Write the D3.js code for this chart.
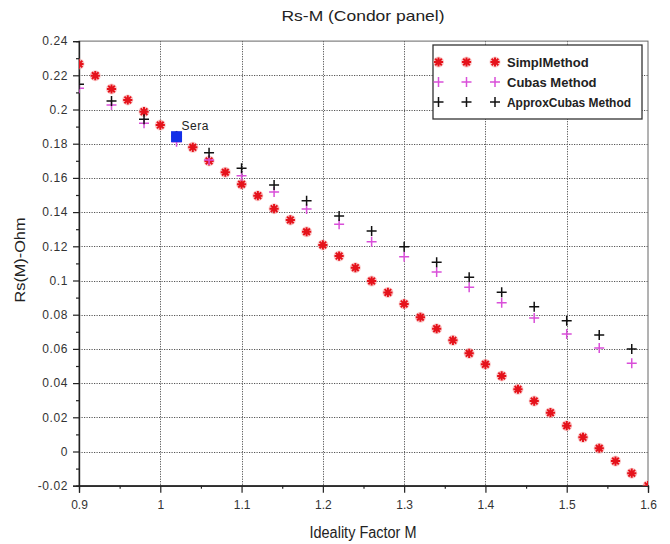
<!DOCTYPE html>
<html>
<head>
<meta charset="utf-8">
<script src="https://cdn.jsdelivr.net/npm/d3@7"></script>
<style>
  body { margin: 0; background: #fff; }
  svg { display: block; font-family: "Liberation Sans", Arial, sans-serif; }
</style>
</head>
<body>
<div class="chart"></div>
<script>
// M 取值
const simplM = [0.90, 0.92, 0.94, 0.96, 0.98, 1.00, 1.02, 1.04, 1.06, 1.08, 1.10, 1.12,
  1.14, 1.16, 1.18, 1.20, 1.22, 1.24, 1.26, 1.28, 1.30, 1.32, 1.34, 1.36,
  1.38, 1.40, 1.42, 1.44, 1.46, 1.48, 1.50, 1.52, 1.54, 1.56, 1.58, 1.60]
const simplRs = [0.2266, 0.2198, 0.2120, 0.2056, 0.1987, 0.1909, 0.1844, 0.1779, 0.1699, 0.1633, 0.1563, 0.1496,
  0.1420, 0.1354, 0.1285, 0.1208, 0.1143, 0.1075, 0.0997, 0.0930, 0.0863, 0.0785, 0.0718, 0.0650,
  0.0574, 0.0510, 0.0442, 0.0364, 0.0295, 0.0227, 0.0151, 0.0083, 0.0019, -0.0056, -0.0127, -0.0200]

const cubasM = [0.90, 0.94, 0.98, 1.02, 1.06, 1.10, 1.14, 1.18, 1.22, 1.26, 1.30, 1.34, 1.38, 1.42, 1.46, 1.50, 1.54, 1.58]
const cubasRs = [0.2124, 0.2026, 0.1919, 0.1812, 0.1705, 0.1613, 0.1518, 0.1418, 0.1329, 0.1227, 0.1139, 0.1050, 0.0960, 0.0870, 0.0781, 0.0687, 0.0605, 0.0516]
const approxRs = [0.2147, 0.2050, 0.1943, 0.1845, 0.1747, 0.1656, 0.1558, 0.1467, 0.1377, 0.1289, 0.1198, 0.1106, 0.1019, 0.0931, 0.0847, 0.0765, 0.0681, 0.0599]

const sera = { m: 1.02, rs: 0.1841, label: 'Sera' }

const xTicks = [0.9, 1.0, 1.1, 1.2, 1.3, 1.4, 1.5, 1.6]
const yTicks = [-0.02, 0, 0.02, 0.04, 0.06, 0.08, 0.1, 0.12, 0.14, 0.16, 0.18, 0.2, 0.22, 0.24]

const legendNames = ['SimplMethod', 'Cubas Method', 'ApproxCubas Method']

const W = 670, H = 544
const pLeft = 79, pRight = 648, pTop = 41.1, pBottom = 485.7

const svg = d3.select('.chart').append('svg').attr('width', W).attr('height', H)

const x = d3.scaleLinear().domain([0.9, 1.6]).range([pLeft, pRight])
const y = d3.scaleLinear().domain([-0.02, 0.24]).range([pBottom, pTop])

const fmt = d => String(+d.toFixed(2))

// 网格线
const grid = svg.append('g').attr('stroke', '#555').attr('stroke-width', 1).attr('stroke-dasharray', '1.2,1.3')
grid.selectAll('.gx').data(xTicks.slice(1, -1)).join('line')
  .attr('x1', d => Math.round(x(d)) + 0.5).attr('x2', d => Math.round(x(d)) + 0.5)
  .attr('y1', pTop).attr('y2', pBottom)
grid.selectAll('.gy').data(yTicks.slice(1, -1)).join('line')
  .attr('y1', d => Math.round(y(d)) + 0.5).attr('y2', d => Math.round(y(d)) + 0.5)
  .attr('x1', pLeft).attr('x2', pRight)

// 外框
svg.append('rect').attr('x', pLeft).attr('y', pTop).attr('width', pRight - pLeft).attr('height', pBottom - pTop)
  .attr('fill', 'none').attr('stroke', '#666').attr('stroke-width', 1)

// 坐标轴
const xAxis = svg.append('g').attr('transform', `translate(0,${pBottom})`)
  .call(d3.axisBottom(x).tickValues(xTicks).tickSize(7).tickPadding(8).tickFormat(fmt))
const xMinor = svg.append('g').attr('transform', `translate(0,${pBottom})`)
  .call(d3.axisBottom(x).tickValues(d3.range(0.95, 1.6, 0.1)).tickSize(3).tickFormat(''))
const yAxis = svg.append('g').attr('transform', `translate(${pLeft},0)`)
  .call(d3.axisLeft(y).tickValues(yTicks).tickSize(6).tickPadding(5).tickFormat(fmt))
const yMinor = svg.append('g').attr('transform', `translate(${pLeft},0)`)
  .call(d3.axisLeft(y).tickValues(d3.range(-0.01, 0.24, 0.02)).tickSize(3).tickFormat(''))

for (const a of [xAxis, xMinor, yAxis, yMinor]) {
  a.select('.domain').attr('stroke', '#222').attr('stroke-width', 1.2)
  a.selectAll('.tick line').attr('stroke', '#222').attr('stroke-width', 1.2)
}
xAxis.selectAll('.tick text').attr('font-size', 12).attr('fill', '#333')
yAxis.selectAll('.tick text').attr('font-size', 12).attr('fill', '#333').attr('letter-spacing', 0.6)

// 数据点
const clip = svg.append('clipPath').attr('id', 'plotClip')
clip.append('rect').attr('x', pLeft).attr('y', pTop).attr('width', pRight - pLeft).attr('height', pBottom - pTop)
const plot = svg.append('g').attr('clip-path', 'url(#plotClip)')

const starPath = r => {
  const q = r * 0.72
  return `M${-r},0L${r},0M0,${-r}L0,${r}M${-q},${-q}L${q},${q}M${-q},${q}L${q},${-q}`
}
const plusPath = r => `M${-r},0L${r},0M0,${-r}L0,${r}`

function drawStar(g, px, py) {
  g.append('circle').attr('cx', px).attr('cy', py).attr('r', 5.5).attr('fill', '#f6a0a0').attr('opacity', 0.55)
  g.append('path').attr('transform', `translate(${px},${py})`).attr('d', starPath(4.6))
    .attr('stroke', '#e5121b').attr('stroke-width', 2).attr('fill', 'none')
}
function drawPlus(g, px, py, color) {
  g.append('path').attr('transform', `translate(${px},${py})`).attr('d', plusPath(5))
    .attr('stroke', color).attr('stroke-width', 1.5).attr('fill', 'none')
}

simplM.forEach((m, i) => drawStar(plot, x(m), y(simplRs[i])))
cubasM.forEach((m, i) => drawPlus(plot, x(m), y(cubasRs[i]), '#d94fd9'))
cubasM.forEach((m, i) => drawPlus(plot, x(m), y(approxRs[i]), '#111'))

// Sera 点
plot.append('rect').attr('x', x(sera.m) - 5.5).attr('y', y(sera.rs) - 5.5).attr('width', 11).attr('height', 11)
  .attr('fill', '#1430e8')
svg.append('text').attr('x', x(sera.m) + 5).attr('y', y(sera.rs) - 7).attr('font-size', 12).attr('fill', '#222')
  .attr('letter-spacing', 0.5).text(sera.label)

// 图例
const lg = svg.append('g')
lg.append('rect').attr('x', 433).attr('y', 45).attr('width', 209).attr('height', 74)
  .attr('fill', '#fff').attr('stroke', '#333').attr('stroke-width', 1.3)
const rowY = [62, 82, 102]
const mx = [438.5, 466.5, 495]
legendNames.forEach((name, i) => {
  mx.forEach(px => {
    if (i === 0) drawStar(lg, px, rowY[i])
    else drawPlus(lg, px, rowY[i], i === 1 ? '#d94fd9' : '#111')
  })
  const t = lg.append('text').attr('x', 507).attr('y', rowY[i] + 5).attr('font-size', 13).attr('fill', '#222')
    .attr('font-weight', 'bold').text(name)
  if (i === 2) t.attr('textLength', 124).attr('lengthAdjust', 'spacingAndGlyphs')
})

// 标题和轴标签
svg.append('text').attr('x', 363).attr('y', 21).attr('text-anchor', 'middle').attr('font-size', 15)
  .attr('fill', '#222').attr('textLength', 163).attr('lengthAdjust', 'spacingAndGlyphs').text('Rs-M (Condor panel)')
svg.append('text').attr('x', 363).attr('y', 538).attr('text-anchor', 'middle').attr('font-size', 16)
  .attr('fill', '#222').attr('textLength', 107).attr('lengthAdjust', 'spacingAndGlyphs').text('Ideality Factor M')
svg.append('text').attr('transform', 'translate(25,260) rotate(-90)').attr('text-anchor', 'middle').attr('font-size', 14)
  .attr('fill', '#222').attr('textLength', 85).attr('lengthAdjust', 'spacingAndGlyphs').text('Rs(M)-Ohm')
</script>
</body>
</html>
